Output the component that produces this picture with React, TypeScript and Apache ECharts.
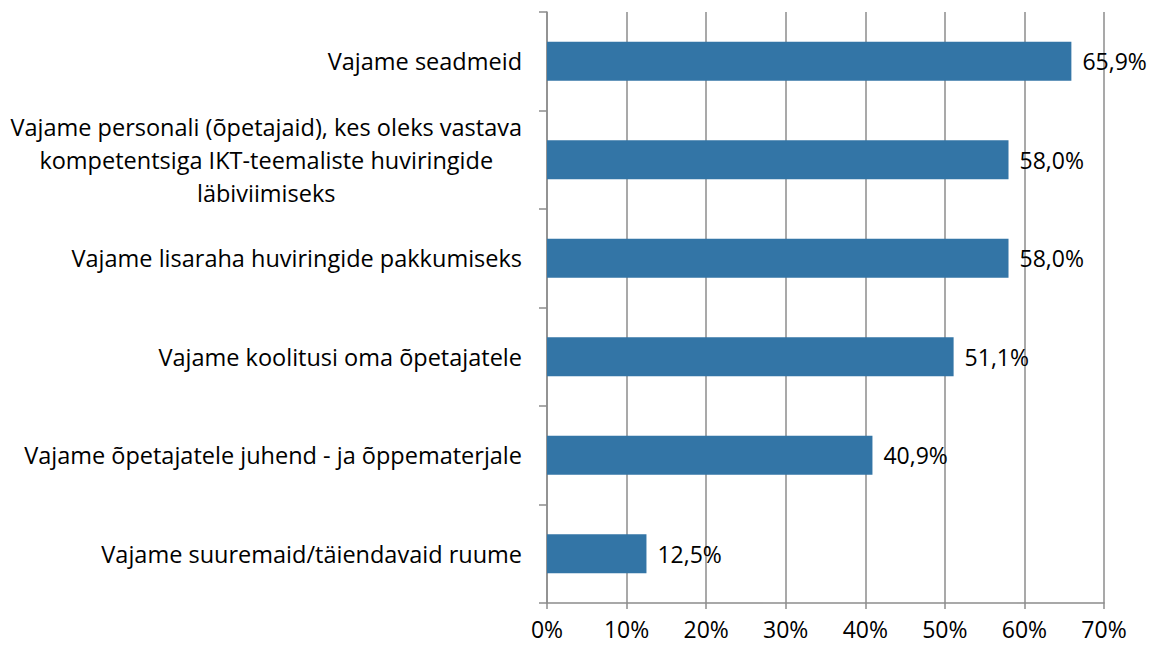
import React, { useEffect, useRef } from "react";
import * as echarts from "echarts";

const categories = [
  "Vajame seadmeid",
  "Vajame personali (õpetajaid), kes oleks vastava\nkompetentsiga IKT-teemaliste huviringide\nläbiviimiseks",
  "Vajame lisaraha huviringide pakkumiseks",
  "Vajame koolitusi oma õpetajatele",
  "Vajame õpetajatele juhend - ja õppematerjale",
  "Vajame suuremaid/täiendavaid ruume",
];
const values = [65.9, 58.0, 58.0, 51.1, 40.9, 12.5];

const FONT = "Open Sans";
const FS = 23;
const CAT_FS = 23.5;

export default function App() {
  const ref = useRef<HTMLDivElement>(null);
  useEffect(() => {
    if (!ref.current) return;
    const chart = echarts.init(ref.current, null, { renderer: "svg" });
    chart.setOption({
      animation: false,
      grid: { left: 547, right: 54, top: 12, bottom: 45 },
      xAxis: {
        type: "value",
        min: 0,
        max: 70,
        interval: 10,
        axisLine: { show: true, lineStyle: { color: "#8c8c8c", width: 1.5 } },
        axisTick: { show: true, length: 6, lineStyle: { color: "#8c8c8c", width: 1.5 } },
        splitLine: { show: true, lineStyle: { color: "#8c8c8c", width: 1.5 } },
        axisLabel: {
          formatter: (v: number) => `${v}%`,
          color: "#000",
          fontFamily: FONT,
          fontSize: FS,
          margin: 14,
        },
      },
      yAxis: {
        type: "category",
        data: categories,
        inverse: true,
        axisLine: { show: true, lineStyle: { color: "#8c8c8c", width: 1.5 } },
        axisTick: { show: true, length: 8, lineStyle: { color: "#8c8c8c", width: 1.5 } },
        axisLabel: {
          margin: 25,
          color: "#000",
          fontFamily: FONT,
          fontSize: CAT_FS,
          lineHeight: 33,
          formatter: (v: string) =>
            v
              .split("\n")
              .map((l) => `{c|${l}}`)
              .join("\n"),
          rich: {
            c: { align: "center", fontFamily: FONT, fontSize: CAT_FS, lineHeight: 33, color: "#000" },
          },
        },
      },
      series: [
        {
          type: "bar",
          data: values,
          barWidth: 39,
          itemStyle: { color: "#3375a6" },
          label: {
            show: true,
            position: "right",
            distance: 11,
            color: "#000",
            fontFamily: FONT,
            fontSize: FS,
            formatter: (p: any) => `${p.value.toFixed(1).replace(".", ",")}%`,
          },
        },
      ],
    });
    return () => chart.dispose();
  }, []);
  return <div ref={ref} style={{ width: 1158, height: 648, margin: -8 }} />;
}
